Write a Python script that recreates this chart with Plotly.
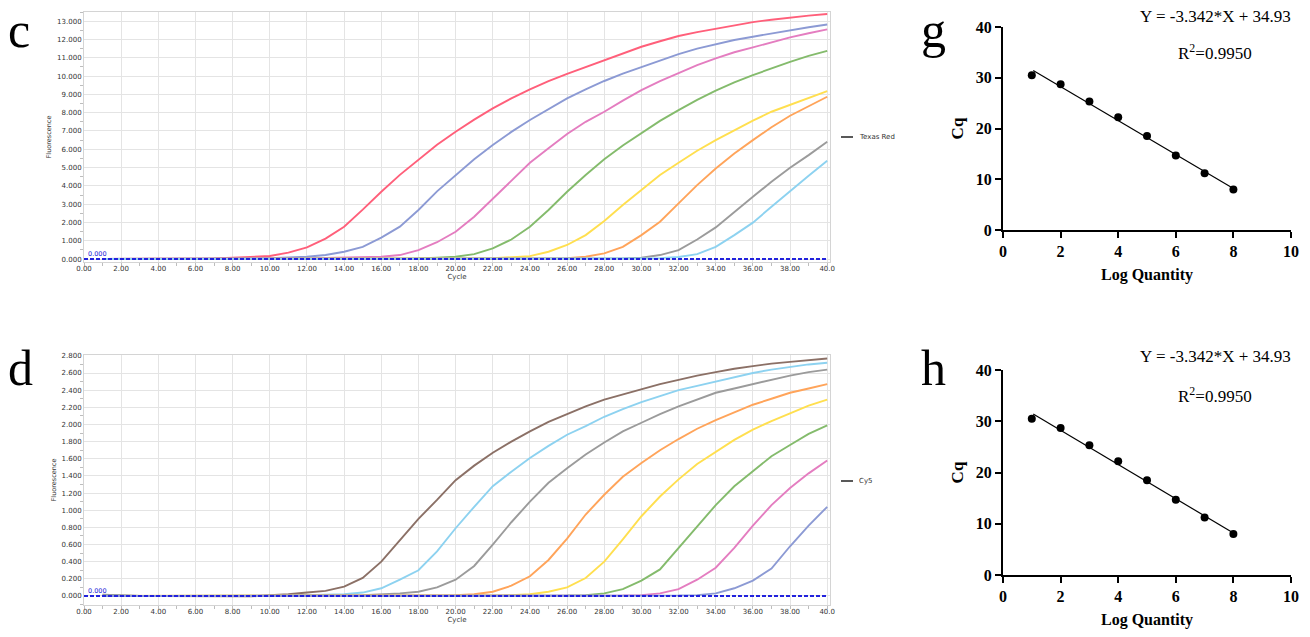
import plotly.graph_objects as go

W, H = 1310, 637

# ---------------- data ----------------
cycles = list(range(1, 41))

# Panel c : Texas Red channel, fluorescence per cycle (1..40)
tr_red = [0.0, 0.0, 0.0, 0.01, 0.01, 0.02, 0.04, 0.07, 0.10, 0.17,
          0.35, 0.64, 1.12, 1.77, 2.70, 3.68, 4.60, 5.45, 6.25, 6.96,
          7.62, 8.23, 8.78, 9.27, 9.72, 10.12, 10.50, 10.87, 11.25, 11.60,
          11.90, 12.19, 12.40, 12.59, 12.78, 12.95, 13.08, 13.20, 13.30, 13.39]
tr_purple = [0.0, 0.0, 0.0, 0.0, 0.0, 0.0, 0.01, 0.02, 0.03, 0.05,
             0.08, 0.13, 0.22, 0.40, 0.67, 1.17, 1.77, 2.68, 3.70, 4.59,
             5.45, 6.23, 6.95, 7.60, 8.20, 8.78, 9.27, 9.73, 10.13, 10.50,
             10.87, 11.20, 11.50, 11.75, 11.97, 12.15, 12.33, 12.50, 12.67, 12.82]
tr_pink = [0.0, 0.0, 0.0, 0.0, 0.0, 0.0, 0.0, 0.01, 0.01, 0.02,
           0.03, 0.04, 0.06, 0.08, 0.10, 0.13, 0.22, 0.49, 0.92, 1.49,
           2.31, 3.30, 4.30, 5.26, 6.05, 6.83, 7.50, 8.05, 8.66, 9.23,
           9.72, 10.18, 10.60, 10.97, 11.30, 11.57, 11.85, 12.11, 12.34, 12.55]
tr_green = [0.0, 0.0, 0.0, 0.0, 0.0, 0.0, 0.0, 0.0, 0.0, 0.0,
            0.0, 0.0, 0.01, 0.01, 0.01, 0.01, 0.02, 0.04, 0.08, 0.13,
            0.27, 0.58, 1.07, 1.77, 2.68, 3.68, 4.59, 5.45, 6.21, 6.90,
            7.55, 8.14, 8.70, 9.20, 9.65, 10.05, 10.43, 10.78, 11.10, 11.38]
tr_yellow = [0.0, 0.0, 0.0, 0.0, 0.0, 0.0, 0.0, 0.0, 0.0, 0.0,
             0.0, 0.0, 0.0, 0.0, 0.0, 0.01, 0.01, 0.01, 0.02, 0.02,
             0.03, 0.05, 0.09, 0.16, 0.40, 0.77, 1.31, 2.08, 2.95, 3.77,
             4.59, 5.26, 5.92, 6.50, 7.05, 7.56, 8.05, 8.42, 8.83, 9.18]
tr_orange = [0.0, 0.0, 0.0, 0.0, 0.0, 0.0, 0.0, 0.0, 0.0, 0.0,
             0.0, 0.0, 0.0, 0.0, 0.0, 0.0, 0.0, 0.0, 0.0, 0.01,
             0.01, 0.01, 0.02, 0.02, 0.03, 0.05, 0.13, 0.31, 0.67, 1.31,
             2.04, 3.04, 4.04, 4.95, 5.77, 6.50, 7.20, 7.83, 8.36, 8.87]
tr_gray = [0.0, 0.0, 0.0, 0.0, 0.0, 0.0, 0.0, 0.0, 0.0, 0.0,
           0.0, 0.0, 0.0, 0.0, 0.0, 0.0, 0.0, 0.0, 0.0, 0.0,
           0.0, 0.0, 0.01, 0.01, 0.01, 0.01, 0.02, 0.02, 0.04, 0.07,
           0.22, 0.49, 1.07, 1.73, 2.59, 3.40, 4.23, 4.99, 5.68, 6.41]
tr_skyblue = [0.0, 0.0, 0.0, 0.0, 0.0, 0.0, 0.0, 0.0, 0.0, 0.0,
              0.0, 0.0, 0.0, 0.0, 0.0, 0.0, 0.0, 0.0, 0.0, 0.0,
              0.0, 0.0, 0.0, 0.0, 0.01, 0.01, 0.01, 0.02, 0.02, 0.03,
              0.05, 0.11, 0.27, 0.67, 1.31, 1.99, 2.86, 3.73, 4.55, 5.37]

# Panel d : Cy5 channel
cy_brown = [0.015, 0.005, 0.0, 0.0, 0.0, 0.0, 0.0, -0.005, -0.005, 0.01,
            0.02, 0.04, 0.06, 0.11, 0.21, 0.40, 0.65, 0.90, 1.12, 1.35,
            1.52, 1.67, 1.80, 1.92, 2.03, 2.12, 2.21, 2.29, 2.35, 2.41,
            2.47, 2.52, 2.57, 2.61, 2.65, 2.68, 2.71, 2.73, 2.75, 2.77]
cy_skyblue = [0.005, 0.0, 0.0, 0.0, 0.0, 0.0, 0.0, 0.0, 0.0, 0.0,
              0.005, 0.01, 0.015, 0.02, 0.04, 0.09, 0.19, 0.30, 0.52, 0.79,
              1.04, 1.28, 1.45, 1.61, 1.75, 1.88, 1.98, 2.09, 2.18, 2.26,
              2.33, 2.40, 2.45, 2.50, 2.55, 2.60, 2.64, 2.67, 2.70, 2.72]
cy_gray = [0.005, 0.0, 0.0, 0.0, 0.0, 0.0, 0.0, 0.0, 0.0, 0.0,
           0.0, 0.0, 0.005, 0.005, 0.01, 0.02, 0.03, 0.05, 0.10, 0.19,
           0.35, 0.60, 0.86, 1.10, 1.32, 1.49, 1.65, 1.79, 1.92, 2.02,
           2.12, 2.21, 2.29, 2.37, 2.42, 2.47, 2.52, 2.57, 2.61, 2.64]
cy_orange = [0.0, 0.0, 0.0, 0.0, 0.0, 0.0, 0.0, 0.0, 0.0, 0.0,
             0.0, 0.0, 0.0, 0.0, 0.0, 0.0, 0.0, 0.005, 0.005, 0.01,
             0.02, 0.05, 0.12, 0.23, 0.42, 0.67, 0.95, 1.18, 1.39, 1.55,
             1.70, 1.83, 1.95, 2.05, 2.14, 2.23, 2.30, 2.37, 2.42, 2.47]
cy_yellow = [0.0, 0.0, 0.0, 0.0, 0.0, 0.0, 0.0, 0.0, 0.0, 0.0,
             0.0, 0.0, 0.0, 0.0, 0.0, 0.0, 0.0, 0.0, 0.0, 0.0,
             0.005, 0.005, 0.01, 0.02, 0.05, 0.10, 0.21, 0.40, 0.66, 0.93,
             1.16, 1.36, 1.54, 1.68, 1.82, 1.94, 2.04, 2.13, 2.22, 2.29]
cy_green = [0.0, 0.0, 0.0, 0.0, 0.0, 0.0, 0.0, 0.0, 0.0, 0.0,
            0.0, 0.0, 0.0, 0.0, 0.0, 0.0, 0.0, 0.0, 0.0, 0.0,
            0.0, 0.0, 0.0, 0.0, 0.005, 0.005, 0.01, 0.03, 0.08, 0.18,
            0.31, 0.56, 0.81, 1.06, 1.28, 1.46, 1.63, 1.76, 1.89, 1.99]
cy_pink = [0.0, 0.0, 0.0, 0.0, 0.0, 0.0, 0.0, 0.0, 0.0, 0.0,
           0.0, 0.0, 0.0, 0.0, 0.0, 0.0, 0.0, 0.0, 0.0, 0.0,
           0.0, 0.0, 0.0, 0.0, 0.0, 0.0, 0.0, 0.005, 0.005, 0.01,
           0.03, 0.08, 0.19, 0.33, 0.56, 0.82, 1.06, 1.26, 1.43, 1.58]
cy_purple = [0.0, 0.0, 0.0, 0.0, 0.0, 0.0, 0.0, 0.0, 0.0, 0.0,
             0.0, 0.0, 0.0, 0.0, 0.0, 0.0, 0.0, 0.0, 0.0, 0.0,
             0.0, 0.0, 0.0, 0.0, 0.0, 0.0, 0.0, 0.0, 0.0, 0.0,
             0.0, 0.005, 0.01, 0.03, 0.09, 0.18, 0.32, 0.58, 0.82, 1.04]

# Standard curves (g, h)
log_quantity = [1, 2, 3, 4, 5, 6, 7, 8]
cq_g = [30.5, 28.7, 25.3, 22.2, 18.5, 14.7, 11.2, 8.0]
cq_h = [30.5, 28.7, 25.3, 22.2, 18.5, 14.7, 11.2, 8.0]
fit_slope, fit_intercept = -3.342, 34.93
fit_x = [1.05, 8.0]

x_tick_vals = list(range(0, 41, 2))
x_tick_text = ["%.2f" % v for v in range(0, 40, 2)] + ["40.0"]

colors_c = ["#ff5f7a", "#8c9ad4", "#e47dc0", "#84bb6c", "#ffdf4f", "#ffa45a", "#9b9b9b", "#8dd2f0"]
colors_d = ["#8b7066", "#8dd2f0", "#9b9b9b", "#ffa45a", "#ffdf4f", "#84bb6c", "#e47dc0", "#8c9ad4"]
series_c = [tr_red, tr_purple, tr_pink, tr_green, tr_yellow, tr_orange, tr_gray, tr_skyblue]
series_d = [cy_brown, cy_skyblue, cy_gray, cy_orange, cy_yellow, cy_green, cy_pink, cy_purple]

# ---------------- figure ----------------
fig = go.Figure()

def px_x(x):
    return x / W

def px_y(y):
    return 1 - y / H

thr_line = dict(color="#2222dd", width=2, dash="4px,2px")

for ys, col in zip(series_c, colors_c):
    fig.add_trace(go.Scatter(x=cycles, y=ys, mode="lines", line=dict(color=col, width=1.9),
                             xaxis="x", yaxis="y", showlegend=False))
fig.add_trace(go.Scatter(x=[0, 40], y=[0, 0], mode="lines", line=thr_line,
                         xaxis="x", yaxis="y", showlegend=False))

for ys, col in zip(series_d, colors_d):
    fig.add_trace(go.Scatter(x=cycles, y=ys, mode="lines", line=dict(color=col, width=1.9),
                             xaxis="x2", yaxis="y2", showlegend=False))
fig.add_trace(go.Scatter(x=[0, 40], y=[0, 0], mode="lines", line=thr_line,
                         xaxis="x2", yaxis="y2", showlegend=False))

for ax, cq in (("3", cq_g), ("4", cq_h)):
    fig.add_trace(go.Scatter(x=fit_x, y=[fit_slope * v + fit_intercept for v in fit_x],
                             mode="lines", line=dict(color="black", width=1.2),
                             xaxis="x" + ax, yaxis="y" + ax, showlegend=False))
    fig.add_trace(go.Scatter(x=log_quantity, y=cq, mode="markers",
                             marker=dict(color="black", size=8),
                             xaxis="x" + ax, yaxis="y" + ax, showlegend=False))

small_font = dict(family="DejaVu Sans", size=7, color="#333333")

def qpcr_x(domain_y_anchor):
    return dict(domain=[px_x(84), px_x(830)], range=[0, 40.15], anchor=domain_y_anchor,
                automargin=False,
                tickvals=x_tick_vals, ticktext=x_tick_text, tickfont=small_font,
                showgrid=True, gridcolor="#e4e4e4", gridwidth=1,
                showline=True, linecolor="#d4d4d4", linewidth=1, mirror=True,
                zeroline=False, ticks="",
                minor=dict(dtick=1, ticks="outside", ticklen=3, tickcolor="#bdbdbd", showgrid=False),
                title=dict(text="Cycle", font=small_font, standoff=1))

def qpcr_y(domain, rng, dtick, minor_dtick, anchor):
    return dict(domain=domain, range=rng, anchor=anchor, dtick=dtick, tick0=0,
                automargin=False,
                tickformat=".3f", tickfont=small_font,
                showgrid=True, gridcolor="#e4e4e4", gridwidth=1,
                showline=True, linecolor="#d4d4d4", linewidth=1, mirror=True,
                zeroline=False, ticks="",
                minor=dict(dtick=minor_dtick, ticks="outside", ticklen=3, tickcolor="#bdbdbd", showgrid=False),
                title=dict(text="Fluorescence", font=dict(family="DejaVu Sans", size=6.5, color="#333333"),
                           standoff=4))

serif_bold = dict(family="Liberation Serif", size=16, color="black", weight="bold")

def std_x(anchor):
    return dict(domain=[px_x(1003), px_x(1291)], range=[0, 10], anchor=anchor,
                automargin=False,
                tickvals=[0, 2, 4, 6, 8, 10], tickfont=serif_bold, ticks="outside",
                ticklen=6, tickwidth=2, tickcolor="black",
                showline=True, linecolor="black", linewidth=2, showgrid=False, zeroline=False,
                title=dict(text="Log Quantity", font=dict(family="Liberation Serif", size=16,
                                                          color="black", weight="bold"),
                           standoff=10))

def std_y(domain, anchor):
    return dict(domain=domain, range=[0, 40], anchor=anchor,
                automargin=False,
                tickvals=[0, 10, 20, 30, 40], tickfont=serif_bold, ticks="outside",
                ticklen=6, tickwidth=2, tickcolor="black",
                showline=True, linecolor="black", linewidth=2, showgrid=False, zeroline=False,
                title=dict(text="Cq", font=dict(family="Liberation Serif", size=17,
                                                color="black", weight="bold"),
                           standoff=8))

layout = dict(
    width=W, height=H, autosize=False,
    margin=dict(l=0, r=0, t=0, b=0, pad=0),
    paper_bgcolor="white", plot_bgcolor="white",
    showlegend=False,
    xaxis=qpcr_x("y"),
    yaxis=qpcr_y([px_y(262), px_y(12)], [-0.16, 13.5], 1, 0.5, "x"),
    xaxis2=qpcr_x("y2"),
    yaxis2=qpcr_y([px_y(605), px_y(355)], [-0.105, 2.81], 0.2, 0.1, "x2"),
    xaxis3=std_x("y3"),
    yaxis3=std_y([px_y(230), px_y(27)], "x3"),
    xaxis4=std_x("y4"),
    yaxis4=std_y([px_y(575), px_y(370)], "x4"),
)
fig.update_layout(**layout)

annotations = []
shapes = []
# threshold labels
for xr, yr in (("x", "y"), ("x2", "y2")):
    annotations.append(dict(x=0.1, y=0, xref=xr, yref=yr, text="0.000", showarrow=False,
                            xanchor="left", yanchor="bottom", yshift=-1,
                            font=dict(family="DejaVu Sans", size=6.5, color="#1c1cd8")))
# channel legends
for name, ypx in (("Texas Red", 137), ("Cy5", 481)):
    shapes.append(dict(type="line", xref="paper", yref="paper",
                       x0=px_x(841), x1=px_x(853), y0=px_y(ypx), y1=px_y(ypx),
                       line=dict(color="#222222", width=1.5)))
    annotations.append(dict(x=px_x(857), y=px_y(ypx), xref="paper", yref="paper", text=name,
                            showarrow=False, xanchor="left", yanchor="middle", font=small_font))
# equations
for y_eq, y_r2 in ((17, 52), (356, 395)):
    annotations.append(dict(x=px_x(1215), y=px_y(y_eq), xref="paper", yref="paper",
                            text="Y = -3.342*X + 34.93", showarrow=False,
                            xanchor="center", yanchor="middle",
                            font=dict(family="Liberation Serif", size=17, color="black")))
    annotations.append(dict(x=px_x(1215), y=px_y(y_r2), xref="paper", yref="paper",
                            text="R<sup>2</sup>=0.9950", showarrow=False,
                            xanchor="center", yanchor="middle",
                            font=dict(family="Liberation Serif", size=17, color="black")))
# panel letters
for letter, xpx, ypx in (("c", 6, 0), ("d", 6, 338), ("g", 919, 0), ("h", 919, 338)):
    annotations.append(dict(x=px_x(xpx), y=px_y(ypx), xref="paper", yref="paper", text=letter,
                            showarrow=False, xanchor="left", yanchor="top",
                            font=dict(family="Liberation Serif", size=50, color="black")))

fig.update_layout(annotations=annotations, shapes=shapes)
fig.write_html("out.html", config={"displayModeBar": False},
               post_script="document.body.style.margin='0';")
